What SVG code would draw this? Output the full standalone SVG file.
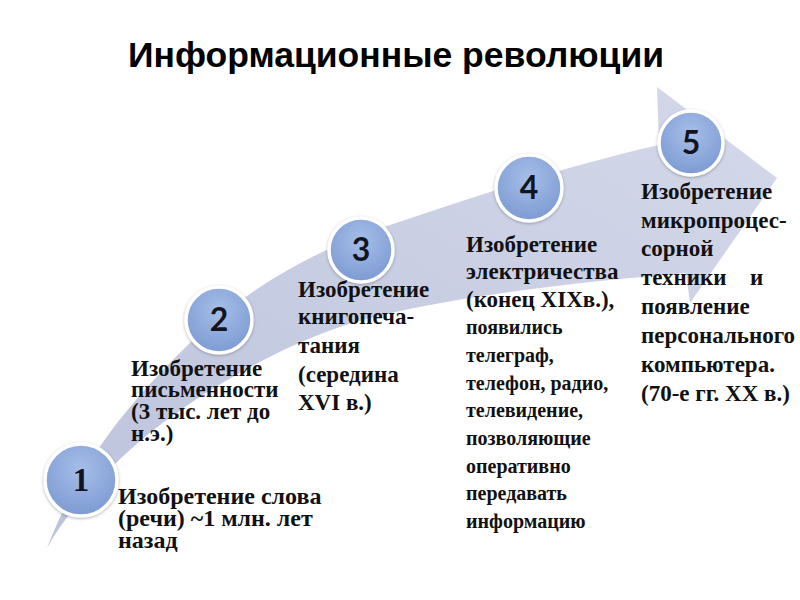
<svg xmlns="http://www.w3.org/2000/svg" width="800" height="600" viewBox="0 0 800 600">
<defs>
<linearGradient id="arrowGrad" x1="0" y1="1" x2="1" y2="0">
<stop offset="0" stop-color="#bcc3db"/>
<stop offset="1" stop-color="#d4d8ea"/>
</linearGradient>
<radialGradient id="ballGrad" cx="0.5" cy="0.35" r="0.65">
<stop offset="0" stop-color="#a6bee8"/>
<stop offset="1" stop-color="#7d9bd3"/>
</radialGradient>
<filter id="sh" x="-30%" y="-30%" width="160%" height="160%">
<feDropShadow dx="0" dy="1" stdDeviation="1.5" flood-color="#555" flood-opacity="0.45"/>
</filter>
<style>
.title{font-family:"Liberation Sans",Arial,sans-serif;font-weight:bold;font-size:35.5px;fill:#000}
.t{font-family:"Liberation Serif","Times New Roman",serif;font-weight:bold;fill:#111}
.num{font-family:Lato,"Open Sans",sans-serif;font-weight:bold;font-size:32px;fill:#141420;text-anchor:middle}
.ball{fill:url(#ballGrad);stroke:#fff;stroke-width:3.5;filter:url(#sh)}
</style>
</defs>
<rect width="800" height="600" fill="#fff"/>
<text class="title" x="396" y="67" text-anchor="middle">Информационные революции</text>
<g id="connectors">
<path id="arrow" fill="url(#arrowGrad)" d="M47,548 C70,490 100,430 190,343 C250,285 320,248 390,225 C480,195 570,165 659,145 L657,87 L777,178 L690,303 L686,273 C580,282 460,295 370,318 C290,338 180,400 117,462 C90,490 65,515 47,548 Z"/>
</g>
<g id="node1">
<circle class="ball" cx="81" cy="480" r="36"/>
<text x="81" y="491" text-anchor="middle" style="font-family:'Liberation Serif',serif;font-weight:bold;font-size:33px;fill:#141420">1</text>
<text class="t" style="font-size:24px"><tspan x="118" y="504">Изобретение слова</tspan><tspan x="118" y="526">(речи) ~1 млн. лет</tspan><tspan x="118" y="548">назад</tspan></text>
</g>
<g id="node2">
<circle class="ball" cx="219" cy="320" r="33"/>
<text class="num" x="219" y="331">2</text>
<text class="t" style="font-size:23px"><tspan x="131" y="376">Изобретение</tspan><tspan x="131" y="397">письменности</tspan><tspan x="131" y="419">(3 тыс. лет до</tspan><tspan x="131" y="441">н.э.)</tspan></text>
</g>
<g id="node3">
<circle class="ball" cx="361" cy="250" r="32"/>
<text class="num" x="361" y="261">3</text>
<text class="t" style="font-size:23px"><tspan x="298" y="297">Изобретение</tspan><tspan x="298" y="324">книгопеча-</tspan><tspan x="298" y="353">тания</tspan><tspan x="298" y="382">(середина</tspan><tspan x="298" y="410">XVI в.)</tspan></text>
</g>
<g id="node4">
<circle class="ball" cx="529" cy="188" r="33"/>
<text class="num" x="529" y="199">4</text>
<text class="t" style="font-size:23px"><tspan x="466" y="252">Изобретение</tspan><tspan x="466" y="279">электричества</tspan><tspan x="466" y="307">(конец XIXв.),</tspan></text>
<text class="t" style="font-size:20px"><tspan x="466" y="334">появились</tspan><tspan x="466" y="362">телеграф,</tspan><tspan x="466" y="390">телефон, радио,</tspan><tspan x="466" y="417">телевидение,</tspan><tspan x="466" y="445">позволяющие</tspan><tspan x="466" y="473">оперативно</tspan><tspan x="466" y="500">передавать</tspan><tspan x="466" y="528">информацию</tspan></text>
</g>
<g id="node5">
<circle class="ball" cx="691" cy="143" r="32"/>
<text class="num" x="691" y="154">5</text>
<text class="t" style="font-size:23px"><tspan x="641" y="199">Изобретение</tspan><tspan x="641" y="228">микропроцес-</tspan><tspan x="641" y="256">сорной</tspan><tspan x="641" y="285">техники</tspan><tspan x="750" y="285">и</tspan><tspan x="641" y="314">появление</tspan><tspan x="641" y="343">персонального</tspan><tspan x="641" y="372">компьютера.</tspan><tspan x="641" y="401">(70-е гг. XX в.)</tspan></text>
</g>
</svg>
